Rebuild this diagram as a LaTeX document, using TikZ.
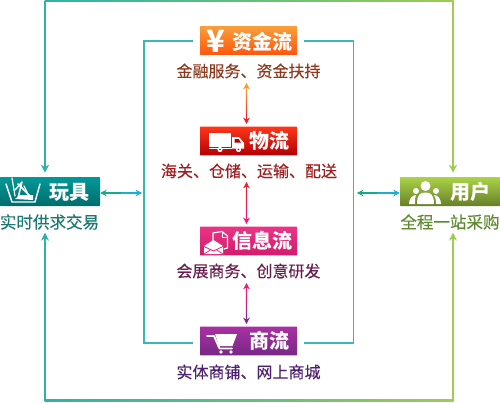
\documentclass[tikz,border=0pt]{standalone}
\usepackage{fontspec}
\setmainfont{Noto Sans CJK SC}
\newfontfamily\subfont[FakeBold=0.35]{Noto Sans CJK SC}
\usetikzlibrary{arrows.meta,calc}
\definecolor{cTeal}{HTML}{2CB3A6}
\definecolor{cInner}{HTML}{3DB7B5}
\definecolor{cGreen}{HTML}{9CCC52}
\definecolor{cPurple}{HTML}{A0369A}
\definecolor{cOr}{HTML}{F79A30}
\definecolor{cRed}{HTML}{E32532}
\definecolor{cPink}{HTML}{E91E78}
\definecolor{cVio}{HTML}{7D2A8C}
\definecolor{cArrL}{HTML}{16A98A}
\definecolor{cArrR}{HTML}{17AFD2}
\definecolor{tBrown}{HTML}{8E3A1E}
\definecolor{tRed}{HTML}{9C1F22}
\definecolor{tPlum}{HTML}{6A1E4E}
\definecolor{tVio}{HTML}{4E2170}
\definecolor{tTeal}{HTML}{1B7A70}
\definecolor{tGreen}{HTML}{5F8A30}
\tikzset{
  x=0.75pt,y=-0.75pt,
  flowbox/.style={inner sep=0pt,minimum width=72.75pt,minimum height=21.5pt,rounded corners=0.4pt},
  sidebox/.style={inner sep=0pt,minimum width=75pt,minimum height=21.75pt,rounded corners=0.4pt},
  title/.style={inner sep=0pt,text=white,font=\fontsize{15}{15}\selectfont\bfseries},
  sub/.style={inner sep=0pt,font=\subfont\fontsize{12}{12}\selectfont},
  sidesub/.style={inner sep=0pt,font=\subfont\fontsize{12.4}{12.4}\selectfont},
  tip/.style={-{Stealth[length=6pt,width=6pt]},line width=0.95pt},
  smalltip/.style={-{Stealth[length=4.8pt,width=5pt]},line width=1pt},
  icon/.style={fill=white,draw=none},
  iconline/.style={draw=white,line width=1.1pt,line join=round,line cap=round},
}
\begin{document}
\begin{tikzpicture}
\useasboundingbox (0,0) rectangle (500,403);
% boxes
\node[flowbox,top color=cOr!95!white,bottom color=orange!60!red!95!white] (b1) at (248.5,40.5) {};
\node[flowbox,top color=red!75!orange!90!white,bottom color=red!70!black!95!purple] (b2) at (248.5,141) {};
\node[flowbox,top color=cPink!90!white,bottom color=cPink!90!black] (b3) at (248.5,241) {};
\node[flowbox,top color=cPurple!90!magenta,bottom color=cVio!95!black] (b4) at (248.5,341) {};
\node[sidebox,top color=teal!80!cyan,bottom color=teal!85!black] (toy) at (50,191.5) {};
\node[sidebox,top color=cGreen!85!yellow,bottom color=cGreen!55!black!90!yellow] (usr) at (450,191.5) {};
% titles
\node[title] (t1) at (262,41.5) {资金流};
\node[title] (t2) at (269.5,141) {物流};
\node[title] (t3) at (262.5,241) {信息流};
\node[title] (t4) at (269,341) {商流};
\node[title] (t5) at (70,192) {玩具};
\node[title] (t6) at (470.5,192) {用户};
% subtitles
\node[sub,text=tBrown] (s1) at (248.5,71) {金融服务、资金扶持};
\node[sub,text=tRed] (s2) at (249,171) {海关、仓储、运输、配送};
\node[sub,text=tPlum] (s3) at (248.5,271) {会展商务、创意研发};
\node[sub,text=tVio] (s4) at (248.5,372) {实体商铺、网上商城};
\node[sidesub,text=tTeal] (s5) at (49.5,222) {实时供求交易};
\node[sidesub,text=tGreen] (s6) at (450,222) {全程一站采购};
% outer frame
\coordinate (tl) at (45,1); \coordinate (tr) at (453,1);
\coordinate (bl) at (45,400); \coordinate (br) at (453,400);
\shade[left color=cTeal,right color=cGreen] (44.5,0) rectangle (453.7,2);
\shade[left color=cTeal,middle color=cPurple,right color=cGreen] (44.5,399.2) rectangle (453.7,401);
\draw[tip,cTeal] (tl) -- (toy.north -| tl) [shorten >=3pt];
\draw[tip,cTeal] (bl) -- (s5.south -| bl) [shorten >=2pt];
\draw[tip,cGreen] (tr) -- (usr.north -| tr) [shorten >=3pt];
\draw[tip,cGreen] (br) -- (s6.south -| br) [shorten >=2pt];
% inner frame
\coordinate (i1) at ($(b1.west)+(-7,0.5)$);
\coordinate (i4) at ($(b4.west)+(-7,2)$);
\coordinate (j1) at ($(b1.east)+(7,0.5)$);
\coordinate (j4) at ($(b4.east)+(7,2)$);
\draw[cInner,line width=1.2pt] (i1) -- (144,0 |- i1) -- (144,0 |- i4) -- (i4);
\draw[cInner,line width=1.2pt] (j1) -- (353.5,0 |- j1) -- (353.5,0 |- j4) -- (j4);
% side arrows
\coordinate (la) at (142,193); \coordinate (ra) at (357,193);
\coordinate (lm) at (121,193); \coordinate (rm) at (377,193);
\draw[smalltip,cArrL] (lm) -- (toy.east |- lm);
\draw[smalltip,cArrR] (lm) -- (la);
\draw[smalltip,cArrL] (rm) -- (ra);
\draw[smalltip,cArrR] (rm) -- (usr.west |- rm);
% vertical arrows
\coordinate (a1) at (246.5,83); \coordinate (m1) at (246.5,103); \coordinate (c1) at (246.5,124);
\coordinate (a2) at (246.5,182); \coordinate (m2) at (246.5,203); \coordinate (c2) at (246.5,224);
\coordinate (a3) at (246.5,283); \coordinate (m3) at (246.5,303); \coordinate (c3) at (246.5,324);
\draw[smalltip,cOr] (m1) -- (a1);
\draw[smalltip,cRed] (m1) -- (c1);
\draw[smalltip,cRed] (m2) -- (a2);
\draw[smalltip,cPink] (m2) -- (c2);
\draw[smalltip,cPink] (m3) -- (a3);
\draw[smalltip,cVio] (m3) -- (c3);
\shade[top color=cOr,bottom color=cRed] (245.8,91) rectangle (247.2,117);
\shade[top color=cRed,bottom color=cPink] (245.8,190) rectangle (247.2,217);
\shade[top color=cPink,bottom color=cVio] (245.8,291) rectangle (247.2,317);
% yen icon
\node[inner sep=0pt,text=white,font=\fontsize{23}{23}\selectfont\bfseries] (yen) at (216,41) {¥};
% truck icon
\fill[icon] (209,133) rectangle (231,147);
\fill[icon] (232,137) -- (239,137) -- (244,143) -- (244,148.5) -- (232,148.5) -- cycle;
\fill[red!70!black] (234.5,139) -- (238.5,139) -- (241,142.5) -- (234.5,142.5) -- cycle;
\fill[icon] (209,148) rectangle (232,149);
\fill[icon] (220,149.5) circle (2.6);
\fill[icon] (238.5,149.5) circle (2.6);
\fill[red!70!black] (220,149.5) circle (0.9);
\fill[red!70!black] (238.5,149.5) circle (0.9);
% envelope icon
\draw[iconline,line width=0.9pt] (213,241) -- (213,233) -- (222,231.5) -- (227.5,236) -- (227.5,248) -- (224,249);
\draw[iconline,line width=0.7pt] (222,232) -- (222,237) -- (227,237);
\fill[icon] (213.5,240) -- (204,246) -- (204,254) -- (223,254) -- (223,246) -- cycle;
\draw[cPink,line width=0.6pt] (204,246.5) -- (213.5,251) -- (223,246.5);
\draw[cPink,line width=0.5pt] (204,254) -- (211,249.5) (223,254) -- (216,249.5);
% cart icon
\draw[iconline,line width=1.4pt] (207,336) -- (214,336) -- (219.5,348.5) -- (232,348.5);
\fill[icon] (215,334) -- (237,334) -- (232.5,346) -- (219,346) -- cycle;
\fill[icon] (221,352) circle (1.9);
\fill[icon] (231,352) circle (1.9);
% toy basket icon
\draw[iconline] (6,184) -- (12,202) -- (35,202) -- (40,184);
\draw[iconline,line width=0.9pt] (12,178) -- (15,196);
\draw[iconline] (15,190) -- (22,182) -- (18,198);
\draw[iconline] (18,184) -- (30,196);
\draw[iconline,line width=0.9pt] (27,192) -- (24,186);
\fill[icon] (15,199) -- (20,195) -- (33,195) -- (33,200) -- cycle;
% people icon
\fill[icon] (425.5,186) circle (5);
\fill[icon] (416,191) circle (3);
\fill[icon] (436,191) circle (3);
\fill[icon] (417,204) .. controls (417,195) and (420,192.5) .. (425.5,192.5) .. controls (431,192.5) and (434,195) .. (434,204) -- cycle;
\fill[icon] (415,204) .. controls (415,200) and (415,197) .. (416,195) .. controls (412,195) and (409,199) .. (409,204) -- cycle;
\fill[icon] (436,204) .. controls (436,200) and (435.5,197) .. (434,195) .. controls (438,195) and (441,199) .. (441,204) -- cycle;
\end{tikzpicture}
\end{document}
